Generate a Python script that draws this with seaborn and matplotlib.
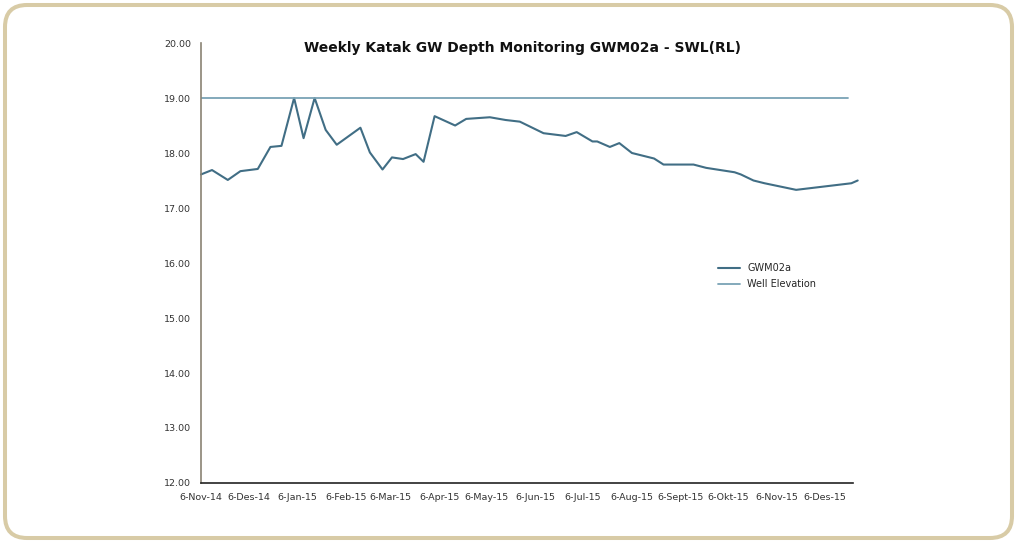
import matplotlib
matplotlib.use("Agg")
import matplotlib.pyplot as plt
import matplotlib.patches as mpatches
import seaborn as sns
import pandas as pd
import numpy as np

# weekly readings (date, level in m RL)
dates = ["2014-11-06", "2014-11-13", "2014-11-23", "2014-12-01", "2014-12-12",
         "2014-12-20", "2014-12-27", "2015-01-04", "2015-01-10", "2015-01-17",
         "2015-01-24", "2015-01-31", "2015-02-15", "2015-02-21", "2015-03-01",
         "2015-03-07", "2015-03-14", "2015-03-22", "2015-03-27", "2015-04-03",
         "2015-04-16", "2015-04-23", "2015-05-08", "2015-05-18", "2015-05-27",
         "2015-06-11", "2015-06-25", "2015-07-02", "2015-07-12", "2015-07-15",
         "2015-07-23", "2015-07-29", "2015-08-06", "2015-08-20", "2015-08-26",
         "2015-09-14", "2015-09-22", "2015-10-10", "2015-10-14", "2015-10-22",
         "2015-10-29", "2015-11-18", "2015-12-23", "2015-12-27"]
gwm02a = [17.61, 17.69, 17.51, 17.67, 17.71,
          18.11, 18.13, 19.00, 18.27, 19.00,
          18.42, 18.15, 18.46, 18.01, 17.70,
          17.92, 17.89, 17.98, 17.84, 18.67,
          18.50, 18.62, 18.65, 18.60, 18.57,
          18.36, 18.31, 18.38, 18.21, 18.21,
          18.11, 18.18, 18.00, 17.90, 17.79,
          17.79, 17.73, 17.65, 17.61, 17.50,
          17.45, 17.33, 17.45, 17.50]

well_dates = ["2014-11-06", "2015-12-21"]
well_level = [19.00, 19.00]

tick_dates = ["2014-11-06", "2014-12-06", "2015-01-06", "2015-02-06", "2015-03-06",
              "2015-04-06", "2015-05-06", "2015-06-06", "2015-07-06", "2015-08-06",
              "2015-09-06", "2015-10-06", "2015-11-06", "2015-12-06"]
tick_labels = ["6-Nov-14", "6-Des-14", "6-Jan-15", "6-Feb-15", "6-Mar-15",
               "6-Apr-15", "6-May-15", "6-Jun-15", "6-Jul-15", "6-Aug-15",
               "6-Sept-15", "6-Okt-15", "6-Nov-15", "6-Des-15"]

df = pd.DataFrame({"date": pd.to_datetime(dates), "level": gwm02a})
dfw = pd.DataFrame({"date": pd.to_datetime(well_dates), "level": well_level})

sns.set_style("white")
plt.rcParams["font.family"] = ["DejaVu Sans"]

fig = plt.figure(figsize=(10.17, 5.43), dpi=100)
ax = fig.add_axes([0.1976, 0.1105, 0.6411, 0.8103])

sns.lineplot(data=df, x="date", y="level", ax=ax, color="#416e85",
             linewidth=1.5, label="GWM02a", clip_on=False)
sns.lineplot(data=dfw, x="date", y="level", ax=ax, color="#7aa3b5",
             linewidth=1.3, label="Well Elevation")

ax.set_xlim(pd.Timestamp("2014-11-06"), pd.Timestamp("2015-12-24"))
ax.set_ylim(12, 20)
ax.set_yticks(np.arange(12, 21, 1))
ax.set_yticklabels([f"{v:.2f}" for v in np.arange(12, 21, 1)])
ax.set_xticks(pd.to_datetime(tick_dates))
ax.set_xticklabels(tick_labels)
ax.set_xlabel("")
ax.set_ylabel("")

for side in ["top", "right"]:
    ax.spines[side].set_visible(False)
for side in ["left", "bottom"]:
    ax.spines[side].set_color("#8a8373")
    ax.spines[side].set_linewidth(1.2)
ax.spines["bottom"].set_color("#222222")
ax.tick_params(axis="both", length=3, width=1, color="#8a8373",
               labelsize=6.8, labelcolor="#333333", pad=4)

leg = ax.legend(loc="upper left", bbox_to_anchor=(0.78, 0.519), frameon=False,
                fontsize=7, handlelength=2.2, labelspacing=0.6)

fig.text(0.514, 0.912, "Weekly Katak GW Depth Monitoring GWM02a - SWL(RL)",
         ha="center", va="center", fontsize=10, fontweight="bold", color="#111111")

# rounded frame around the whole picture
frame = mpatches.FancyBboxPatch((5, 5), 1007, 533,
                                boxstyle="round,pad=0,rounding_size=22",
                                transform=None, fill=False,
                                edgecolor="#d8cba6", linewidth=2.9)
fig.patches.append(frame)

fig.savefig("out.png", dpi=100)
